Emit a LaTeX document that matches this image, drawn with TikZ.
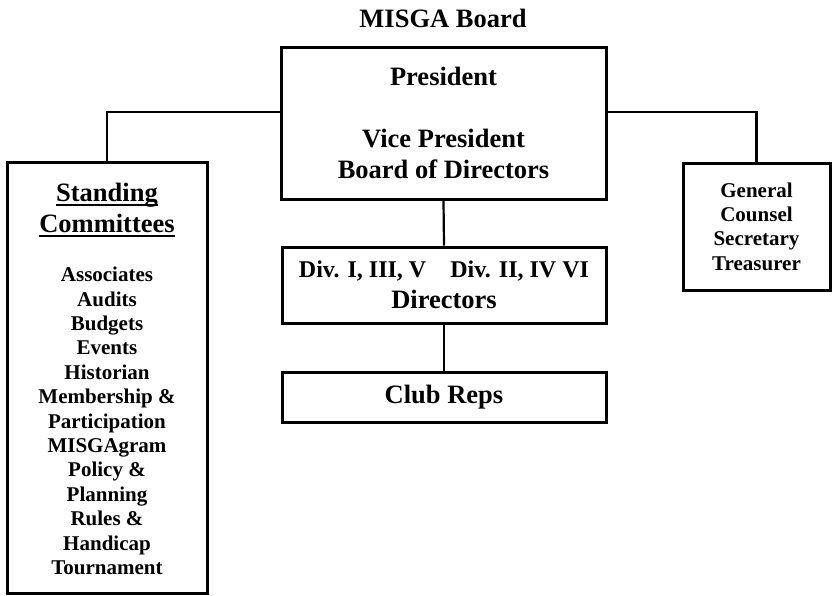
\documentclass[tikz,border=0pt]{standalone}
\usepackage{fontspec}
\setmainfont{Liberation Serif}
\newcommand\bigfont{\fontsize{26.5}{31}\selectfont\bfseries}
\newcommand\divfont{\fontsize{24}{30}\selectfont\bfseries}
\newcommand\smallfont{\fontsize{21}{24.4}\selectfont\bfseries}
\newcommand\ulbar[1]{\setbox0\hbox{#1}\rlap{\rule[-4.4pt]{\wd0}{1.8pt}}\box0}
\begin{document}
\begin{tikzpicture}[x=1pt,y=-1pt,
  box/.style={draw, line width=3pt, inner sep=0pt, align=center, font=\bigfont},
  link/.style={line width=2.2pt},
  txt/.style={align=center, inner sep=0pt}]
\useasboundingbox (0,0) rectangle (833,595);
\node[txt, font=\bigfont] (title) at (443,18) {MISGA Board};
\node[box, minimum width=325pt, minimum height=152pt] (pres) at (443.5,123)
  {President\\[31pt]Vice President\\Board of Directors};
\node[box, minimum width=324pt, minimum height=76pt] (div) at (444,285)
  {{\divfont Div. I, III, V\hspace{24pt}Div. II, IV VI}\\Directors};
\node[box, minimum width=324pt, minimum height=50pt] (club) at (444,397) {Club Reps};
\node[box, minimum width=147pt, minimum height=127pt, font=\smallfont] (gc) at (756.5,226.5)
  {General\\Counsel\\Secretary\\Treasurer};
\node[box, minimum width=200pt, minimum height=431pt] (stand) at (107,377.5) {};
\node[txt, font=\bigfont] (head) at (107,209.7) {\ulbar{Standing}\\\ulbar{Committees}};
\node[txt, font=\smallfont] (list) at (107,421)
  {Associates\\Audits\\Budgets\\Events\\Historian\\Membership \&\\Participation\\MISGAgram\\Policy \&\\Planning\\Rules \&\\Handicap\\Tournament};
\draw[link] (stand.north) |- ([yshift=11pt]pres.west);
\draw[link] (gc.north) |- ([yshift=11pt]pres.east);
\draw[link] (pres.south) -- (div.north);
\draw[link] (div.south) -- (club.north);
\end{tikzpicture}
\end{document}
